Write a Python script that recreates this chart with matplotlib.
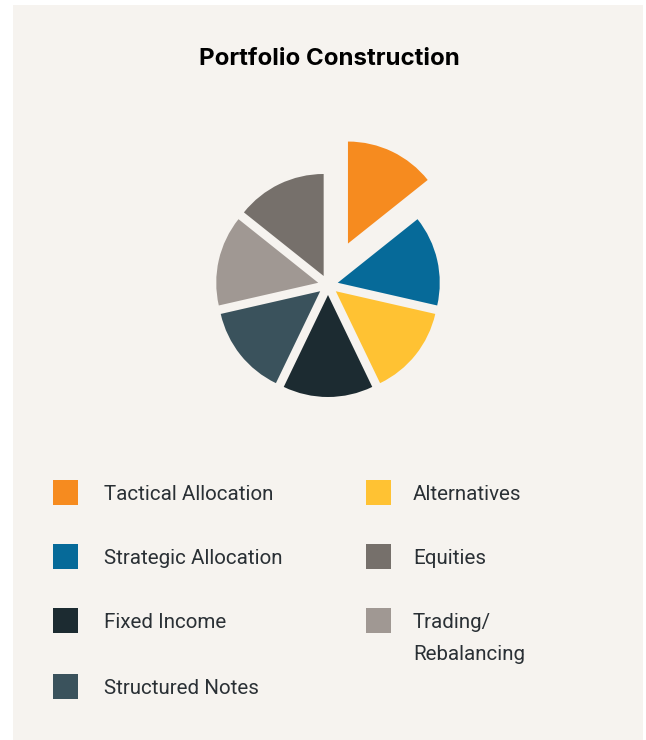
import matplotlib.pyplot as plt
from matplotlib.patches import Rectangle

W, H = 646, 740

labels = ['Tactical Allocation', 'Strategic Allocation', 'Alternatives', 'Fixed Income',
          'Structured Notes', 'Trading/\nRebalancing', 'Equities']
values = [1, 1, 1, 1, 1, 1, 1]
colors = ['#F68B1F', '#066A99', '#FFC233', '#1C2B31', '#3A525C', '#A09893', '#76706B']
explode = [0.46, 0.1, 0.1, 0.1, 0.1, 0.1, 0.1]

# legend order: two columns
legend_left = ['Tactical Allocation', 'Strategic Allocation', 'Fixed Income', 'Structured Notes']
legend_right = ['Alternatives', 'Equities', 'Trading/\nRebalancing']

bg = '#F6F3EF'
txt = '#2A3035'

fig = plt.figure(figsize=(W / 100, H / 100), dpi=100)
fig.patch.set_facecolor('white')
fig.patches.append(Rectangle((13 / W, 0), 630 / W, 735 / H, transform=fig.transFigure,
                             facecolor=bg, edgecolor='none', zorder=-1))

fig.text(329 / W, 1 - 59 / H, 'Portfolio Construction', ha='center', va='center',
         fontsize=17.3, fontweight='bold', family='Inter', color='black')

cx, cy, half = 328, 285, 160
ax = fig.add_axes([(cx - half) / W, (H - cy - half) / H, 2 * half / W, 2 * half / H])
ax.pie(values, colors=colors, explode=explode, startangle=90, counterclock=False,
       radius=1.02, wedgeprops=dict(linewidth=0))
ax.set_xlim(-1.6, 1.6)
ax.set_ylim(-1.6, 1.6)
ax.set_aspect('equal')
ax.axis('off')

color_of = dict(zip(labels, colors))
row_y = [492, 556, 620, 686]
for col_x, text_x, names in [(53, 104, legend_left), (366, 413, legend_right)]:
    for i, name in enumerate(names):
        y = row_y[i]
        fig.patches.append(Rectangle((col_x / W, 1 - (y + 12.5) / H), 25 / W, 25 / H,
                                     transform=fig.transFigure, facecolor=color_of[name],
                                     edgecolor='none'))
        for k, line in enumerate(name.split('\n')):
            fig.text(text_x / W, 1 - (y + 2 + 32 * k) / H, line, ha='left', va='center',
                     fontsize=14.8, family='Roboto', color=txt)

fig.savefig('out.png', dpi=100, facecolor=fig.get_facecolor())
